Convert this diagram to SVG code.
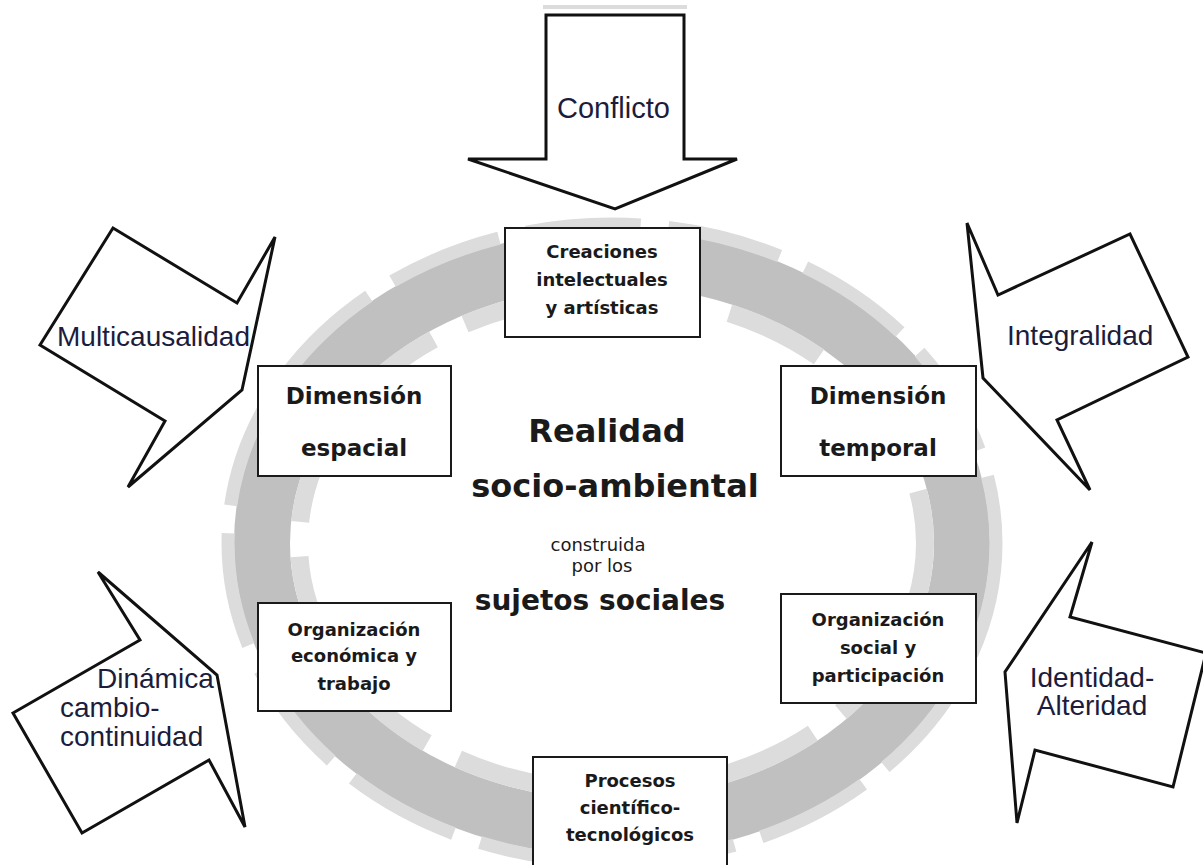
<svg xmlns="http://www.w3.org/2000/svg" width="1203" height="865" viewBox="0 0 1203 865">
<style>
.band{fill:none;stroke:#c0c0c0;stroke-width:56}
.lo{fill:none;stroke:#dcdcdc;stroke-width:13;stroke-dasharray:115 28}
.li{fill:none;stroke:#dcdcdc;stroke-width:18;stroke-dasharray:100 35;stroke-dashoffset:40}
.box{fill:#fff;stroke:#1a1a1a;stroke-width:2}
.arr{fill:#fff;stroke:#111;stroke-width:3;stroke-linejoin:miter}
.bt{font-family:"DejaVu Sans",sans-serif;font-weight:bold;fill:#1a1a1a;text-anchor:middle}
.big{font-size:23px}
.sm{font-size:18px}
.at{font-family:"Liberation Sans",Arial,sans-serif;font-size:28px;fill:#1c1c3c}
.ct{font-family:"DejaVu Sans",sans-serif;fill:#1a1a1a;text-anchor:middle}
</style>
<rect width="1203" height="865" fill="#fff"/>
<g id="ring">
<ellipse class="band" cx="612" cy="543" rx="350" ry="285"/>
<ellipse class="lo" cx="612" cy="543" rx="384" ry="319"/>
<ellipse class="li" cx="612" cy="543" rx="313" ry="248"/>
</g>
<g id="arrows">
<g id="arrow-conflicto">
<rect x="543" y="5" width="144" height="4" fill="#dcdcdc"/>
<polygon class="arr" points="546,15 684,15 684,159 737,159 615,209 468,159 546,159"/>
<text class="at" x="557" y="118" style="font-size:29px">Conflicto</text>
</g>
<g id="arrow-multicausalidad">
<polygon class="arr" points="113,228 237,303 275,237 242,390 128,487 165,421 40,345"/>
<text class="at" x="57" y="346">Multicausalidad</text>
</g>
<g id="arrow-integralidad">
<polygon class="arr" points="967,223 998,295 1130,234 1188,357 1057,420 1090,490 983,378"/>
<text class="at" x="1007" y="345">Integralidad</text>
</g>
<g id="arrow-dinamica">
<polygon class="arr" points="98,572 140,640 13,713 82,833 209,760 245,827 217,675"/>
<text class="at" x="97" y="688">Dinámica</text>
<text class="at" x="60" y="717">cambio-</text>
<text class="at" x="60" y="746">continuidad</text>
</g>
<g id="arrow-identidad">
<polygon class="arr" points="1092,542 1070,617 1206,653 1173,787 1035,750 1017,823 1005,672"/>
<text class="at" x="1092" y="687" text-anchor="middle">Identidad-</text>
<text class="at" x="1092" y="715" text-anchor="middle">Alteridad</text>
</g>
</g>
<g id="box-creaciones">
<rect class="box" x="505" y="228" width="195" height="109"/>
<text class="bt sm" x="602" y="258">Creaciones</text>
<text class="bt sm" x="602" y="286">intelectuales</text>
<text class="bt sm" x="602" y="314">y artísticas</text>
</g>
<g id="box-espacial">
<rect class="box" x="258" y="366" width="193" height="110"/>
<text class="bt big" x="354" y="404">Dimensión</text>
<text class="bt big" x="354" y="456">espacial</text>
</g>
<g id="box-temporal">
<rect class="box" x="781" y="366" width="195" height="110"/>
<text class="bt big" x="878" y="404">Dimensión</text>
<text class="bt big" x="878" y="456">temporal</text>
</g>
<g id="box-economica">
<rect class="box" x="258" y="603" width="193" height="108"/>
<text class="bt sm" x="354" y="636">Organización</text>
<text class="bt sm" x="354" y="662">económica y</text>
<text class="bt sm" x="354" y="690">trabajo</text>
</g>
<g id="box-social">
<rect class="box" x="781" y="594" width="195" height="109"/>
<text class="bt sm" x="878" y="626">Organización</text>
<text class="bt sm" x="878" y="654">social y</text>
<text class="bt sm" x="878" y="682">participación</text>
</g>
<g id="box-procesos">
<rect class="box" x="533" y="757" width="194" height="120"/>
<text class="bt sm" x="630" y="787">Procesos</text>
<text class="bt sm" x="630" y="814">científico-</text>
<text class="bt sm" x="630" y="841">tecnológicos</text>
</g>
<g id="center">
<text class="bt" x="607" y="442" style="font-size:32px">Realidad</text>
<text class="bt" x="615" y="497" style="font-size:32px">socio-ambiental</text>
<text class="ct" x="598" y="551" style="font-size:18px">construida</text>
<text class="ct" x="602" y="572" style="font-size:18px">por los</text>
<text class="bt" x="600" y="610" style="font-size:28px">sujetos sociales</text>
</g>
</svg>
